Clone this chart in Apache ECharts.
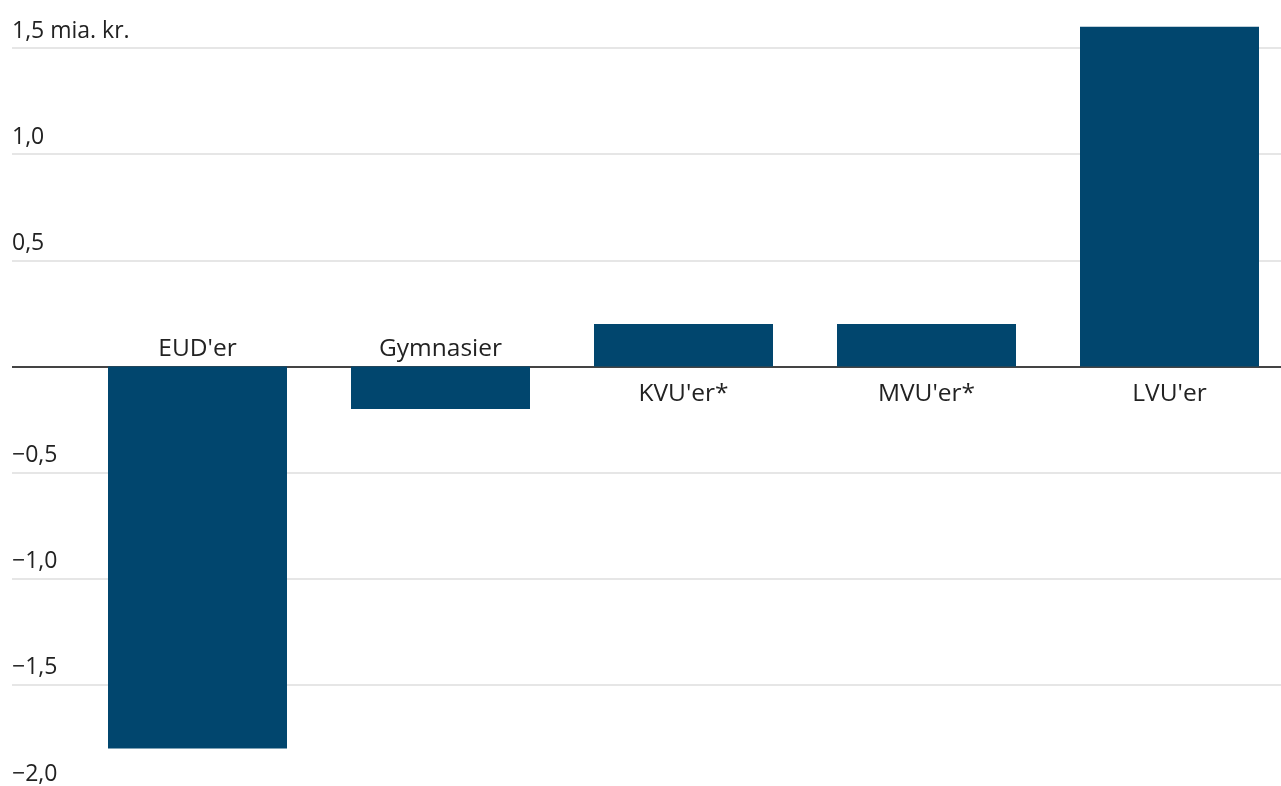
<!DOCTYPE html>
<html>
<head>
<meta charset="utf-8">
<script src="https://cdn.jsdelivr.net/npm/echarts@6/dist/echarts.min.js"></script>
<style>
html,body{margin:0;padding:0;background:#fff;}
#chart{width:1281px;height:786px;}
</style>
</head>
<body>
<div id="chart"></div>
<script>
const categories = ["EUD'er", "Gymnasier", "KVU'er*", "MVU'er*", "LVU'er"];
const values = [-1.8, -0.2, 0.2, 0.2, 1.6];
const yTickValues = [-2, -1.5, -1, -0.5, 0, 0.5, 1, 1.5];
const yTickLabels = ["−2,0", "−1,5", "−1,0", "−0,5", "", "0,5", "1,0", "1,5 mia. kr."];

const FONT = "Open Sans";
const chart = echarts.init(document.getElementById('chart'), null, {renderer: 'canvas'});

const yRange = {min: -2, max: 1.5, interval: 0.5};
const gridColors = yTickValues.map(v => v === 0 ? '#444444' : '#e6e6e6');

chart.setOption({
  animation: false,
  backgroundColor: '#fff',
  grid: [
    {left: 12, width: 1269, top: 48, height: 743, containLabel: false, outerBoundsMode: 'none'},
    {left: 76, width: 1215, top: 48, height: 743, containLabel: false, outerBoundsMode: 'none'}
  ],
  xAxis: [
    {
      gridIndex: 0, type: 'category', data: categories,
      axisLine: {show: false}, axisTick: {show: false}, axisLabel: {show: false}, splitLine: {show: false}
    },
    {
      gridIndex: 1, type: 'category', data: categories,
      axisLine: {show: false}, axisTick: {show: false}, axisLabel: {show: false}, splitLine: {show: false}
    }
  ],
  yAxis: [
    {
      gridIndex: 0, type: 'value', min: yRange.min, max: yRange.max, interval: yRange.interval,
      axisLine: {show: false}, axisTick: {show: false},
      splitLine: {show: true, lineStyle: {color: gridColors, width: 2}},
      axisLabel: {
        show: true, inside: true, margin: 0,
        align: 'left', verticalAlign: 'bottom',
        fontFamily: FONT, fontSize: 23, color: '#222', lineHeight: 24,
        padding: [0, 0, 5, 0],
        formatter: function (v) {
          const i = yTickValues.findIndex(t => Math.abs(t - v) < 1e-9);
          return i >= 0 ? yTickLabels[i] : '';
        }
      },
      z: 1
    },
    {
      gridIndex: 1, type: 'value', min: yRange.min, max: yRange.max, interval: yRange.interval,
      show: false, splitLine: {show: false}
    }
  ],
  series: [
    {
      type: 'bar',
      xAxisIndex: 1, yAxisIndex: 1,
      barWidth: 179,
      clip: false,
      z: 3,
      itemStyle: {color: '#01466e'},
      data: values.map(v => ({
        value: v,
        label: {position: v < 0 ? 'top' : 'bottom', distance: v < 0 ? 5 : 15}
      })),
      label: {
        show: true,
        formatter: '{b}',
        fontFamily: FONT, fontSize: 24.5, color: '#222'
      }
    }
  ]
});
</script>
</body>
</html>
